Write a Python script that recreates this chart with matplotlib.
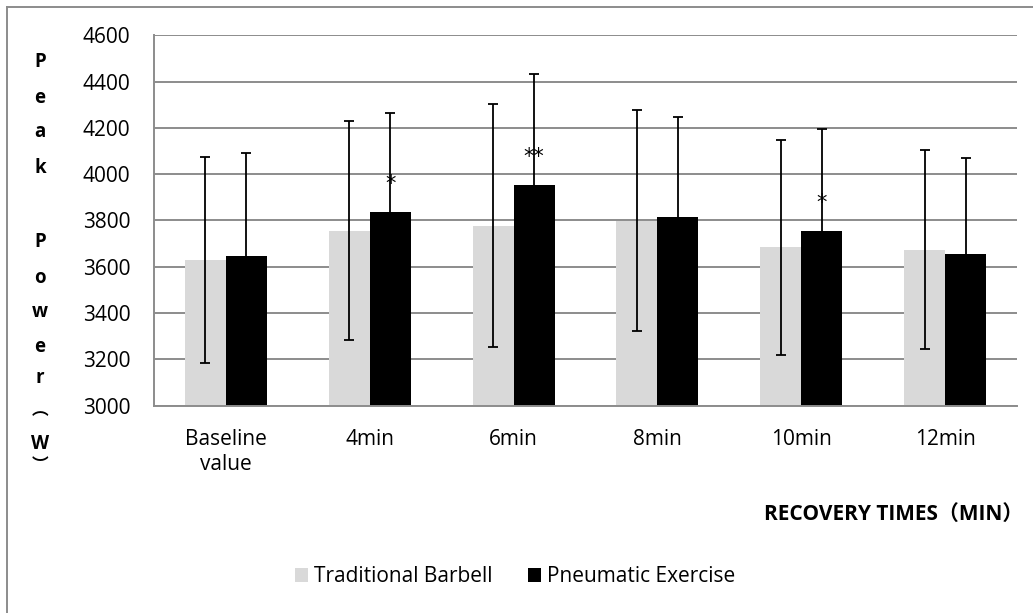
import matplotlib
matplotlib.use("Agg")
import matplotlib.pyplot as plt
from matplotlib.lines import Line2D
from matplotlib.patches import Patch
import numpy as np

plt.rcParams['font.family'] = ['Open Sans', 'Noto Sans CJK SC', 'DejaVu Sans']

categories = ["Baseline\nvalue", "4min", "6min", "8min", "10min", "12min"]
traditional_mean = [3629, 3756, 3778, 3799, 3684, 3673]
traditional_sd = [444, 474, 525, 477, 463, 430]
pneumatic_mean = [3648, 3838, 3952, 3816, 3755, 3655]
pneumatic_sd = [443, 426, 482, 432, 442, 415]
significance = ["", "*", "**", "", "*", ""]
yticks = [3000, 3200, 3400, 3600, 3800, 4000, 4200, 4400, 4600]

W, H = 1033, 613
fig = plt.figure(figsize=(W / 100, H / 100), dpi=100)
ax = fig.add_axes([154 / W, 1 - 405.7 / H, (1017 - 154) / W, (405.7 - 35.3) / H])

grid_color = "#8c8c8c"
light = "#d9d9d9"
dark = "#000000"

x = np.arange(len(categories))
bw = 0.285
ax.bar(x - bw / 2, traditional_mean, bw, color=light, zorder=2, label="Traditional Barbell")
ax.bar(x + bw / 2, pneumatic_mean, bw, color=dark, zorder=2, label="Pneumatic Exercise")

ekw = dict(fmt="none", ecolor="black", elinewidth=1.3, capsize=3.4, capthick=1.3, zorder=3)
ax.errorbar(x - bw / 2, traditional_mean, yerr=traditional_sd, **ekw)
ax.errorbar(x + bw / 2, pneumatic_mean, yerr=pneumatic_sd, **ekw)

for xi, m, s in zip(x, pneumatic_mean, significance):
    if s:
        ax.annotate(s, (xi + bw / 2, m), xytext=(0, 13), textcoords="offset points",
                    ha="center", va="bottom", fontsize=15, family="DejaVu Sans", zorder=4)

ax.set_xlim(-0.5, len(categories) - 0.5)
ax.set_ylim(3000, 4600)
ax.set_yticks(yticks)
ax.set_xticks(x)
ax.set_xticklabels(categories, fontsize=15, linespacing=1.25)
ax.set_yticklabels([str(v) for v in yticks], fontsize=15)
ax.tick_params(axis="y", length=0, pad=17)
ax.tick_params(axis="x", length=0, pad=17)
ax.yaxis.grid(True, color=grid_color, linewidth=1.4, zorder=0)
ax.set_axisbelow(True)
for side in ("top", "right"):
    ax.spines[side].set_visible(False)
for side in ("left", "bottom"):
    ax.spines[side].set_color(grid_color)
    ax.spines[side].set_linewidth(1.4)

# vertical y-axis title, one glyph per line
label_chars = ["P", "e", "a", "k", "P", "o", "w", "e", "r", "W"]
label_base = [67, 103, 137, 173, 247, 283, 317, 352, 383, 449]
for ch, yb in zip(label_chars, label_base):
    fig.text(40 / W, 1 - yb / H, ch, ha="center", va="baseline", fontsize=13.5,
             fontweight="bold")
# vertical-form brackets around the unit
for ch, yc in (("\ufe35", 410), ("\ufe36", 465)):
    fig.text(40 / W, 1 - yc / H, ch, ha="center", va="center", fontsize=12,
             fontweight="bold", family=["Noto Sans CJK SC", "DejaVu Sans"])

fig.text(1023 / W, 1 - 514 / H, "RECOVERY TIMES\uff08MIN\uff09", ha="right", va="center",
         fontsize=15, fontweight="bold", family=["Open Sans", "Noto Sans CJK SC"])

handles = [Patch(facecolor=light, label="Traditional Barbell"),
           Patch(facecolor=dark, label="Pneumatic Exercise")]
fig.legend(handles=handles, loc="center", bbox_to_anchor=(515.5 / W, 1 - 577 / H), ncol=2,
           frameon=False, fontsize=15, handlelength=0.62, handleheight=0.62,
           handletextpad=0.3, columnspacing=1.7)

# chart area border
fig.add_artist(Line2D([6.5 / W, 6.5 / W], [0, 1 - 7 / H], color=grid_color, linewidth=1.4))
fig.add_artist(Line2D([6.5 / W, 1], [1 - 7 / H, 1 - 7 / H], color=grid_color, linewidth=1.4))

fig.savefig("out.png", dpi=100, facecolor="white")
